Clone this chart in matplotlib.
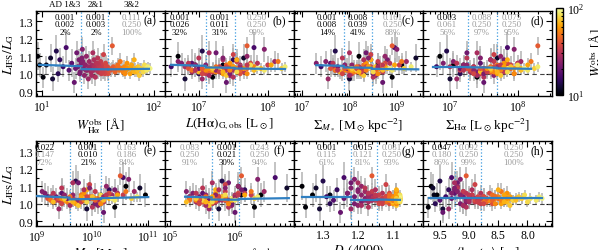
import numpy as np
import matplotlib
matplotlib.use("Agg")
import matplotlib.pyplot as plt
from matplotlib.colors import LogNorm
from matplotlib.ticker import MultipleLocator, LogLocator, NullFormatter

plt.rcParams['font.family'] = 'serif'
plt.rcParams['font.serif'] = ['Liberation Serif', 'DejaVu Serif']
plt.rcParams['mathtext.fontset'] = 'stix'

# galaxy sample (roughly)
w_ha = [9.2, 9.6, 10.3, 11.0, 12.5, 13.5, 14.5, 15.5, 16.5, 17.5, 18.5, 19.5, 12.0, 14.0,
        20.5, 21.0, 21.5, 22.0, 22.5, 23.0, 23.5, 24.0, 24.5, 25.0, 25.5, 26.0, 26.5, 27.0, 27.5, 28.0,
        28.5, 29.0, 29.5, 30.0, 30.5, 31.0, 31.5, 32.0, 32.5, 33.0, 33.5, 34.0, 34.5, 35.0, 36.0, 37.0,
        38.0, 38.5, 39.0, 39.5,
        41.0, 42.5, 43.5, 45.0, 46.0, 47.5, 49.0, 50.0, 51.5, 53.0, 54.5, 56.0, 57.5, 59.0, 61.0, 63.0,
        65.0, 66.5, 68.0, 70.0, 72.0, 74.0, 76.5, 79.0, 82.0, 85.0, 88.0, 92.0,
        20.0, 21.8, 23.2, 24.8, 26.2, 27.8, 29.2, 30.8, 32.2, 33.8, 35.5, 36.5, 37.5, 24.2, 28.2, 31.2,
        34.8, 22.8, 42.0, 44.5, 48.0, 52.0, 55.0, 58.0, 62.0, 67.0, 71.0, 75.0, 80.0, 86.0]
ratio = [1.10, 1.05, 0.98, 1.05, 0.97, 1.13, 1.08, 1.04, 1.15, 1.02, 1.06, 0.95, 1.09, 1.00,
         1.12, 1.04, 1.08, 1.01, 1.06, 1.14, 1.03, 0.99, 1.05, 1.10, 1.02, 0.97, 1.07, 1.03, 1.01, 1.05,
         1.12, 1.02, 1.04, 0.98, 1.06, 1.03, 1.09, 1.01, 1.04, 1.02, 1.07, 1.00, 1.05, 1.03, 1.01, 1.06,
         1.02, 1.04, 1.00, 1.03,
         1.02, 1.16, 1.04, 1.01, 1.03, 1.05, 1.02, 1.07, 1.03, 1.01, 1.04, 1.02, 1.06, 1.03, 1.00, 1.05,
         1.02, 1.08, 1.03, 1.01, 1.04, 0.99, 1.03, 1.02, 1.05, 1.03, 1.04, 1.03,
         1.03, 1.00, 1.07, 1.02, 1.04, 0.99, 1.08, 1.02, 1.05, 1.03, 1.11, 1.00, 1.04, 1.05, 1.02, 1.06,
         1.01, 1.09, 1.03, 1.02, 1.04, 1.02, 1.00, 1.03, 1.04, 1.01, 1.02, 1.03, 1.01, 1.02]
ratio_err = [0.08, 0.07, 0.06, 0.05, 0.07, 0.09, 0.07, 0.06, 0.09, 0.06, 0.08, 0.06, 0.08, 0.05,
             0.07, 0.05, 0.06, 0.04, 0.06, 0.07, 0.05, 0.05, 0.06, 0.06, 0.04, 0.06, 0.06, 0.05, 0.04, 0.05,
             0.07, 0.04, 0.05, 0.05, 0.05, 0.04, 0.06, 0.04, 0.05, 0.04, 0.05, 0.04, 0.05, 0.04, 0.04, 0.05,
             0.04, 0.05, 0.04, 0.04,
             0.04, 0.05, 0.04, 0.03, 0.04, 0.04, 0.03, 0.05, 0.03, 0.03, 0.04, 0.03, 0.04, 0.03, 0.03, 0.04,
             0.03, 0.04, 0.03, 0.03, 0.03, 0.03, 0.03, 0.03, 0.03, 0.03, 0.03, 0.03,
             0.06, 0.05, 0.06, 0.05, 0.05, 0.05, 0.06, 0.04, 0.05, 0.04, 0.06, 0.04, 0.04, 0.06, 0.05, 0.05,
             0.04, 0.07, 0.04, 0.04, 0.04, 0.03, 0.03, 0.03, 0.03, 0.03, 0.03, 0.03, 0.03, 0.03]
log_lha = [6.70, 6.95, 7.20, 7.35, 6.80, 7.05, 7.50, 6.60, 7.80, 7.15, 6.90, 7.40, 7.65, 7.00,
           7.25, 6.85, 7.55, 7.10, 6.75, 7.95, 7.30, 7.45, 6.95, 7.70, 7.20, 7.05, 8.10, 7.35, 6.90, 7.60,
           7.15, 7.40, 6.80, 7.50, 7.85, 7.25, 7.00, 7.65, 7.30, 6.95, 7.55, 7.10, 8.00, 7.35, 7.20, 7.75,
           7.05, 7.45, 7.60, 6.85,
           7.30, 7.70, 7.50, 7.15, 7.70, 7.40, 6.90, 8.15, 7.55, 7.25, 7.80, 7.10, 7.45, 7.65, 7.35, 8.05,
           7.20, 7.55, 7.90, 7.00, 7.60, 7.40, 8.20, 7.30, 7.75, 7.50, 8.25, 7.85,
           7.00, 7.45, 6.70, 7.25, 7.60, 7.15, 7.35, 6.95, 7.70, 7.20, 7.50, 7.05, 7.40, 7.10, 7.50, 6.85,
           7.30, 7.35, 7.05, 7.60, 7.25, 7.45, 7.70, 7.15, 7.50, 7.35, 7.80, 7.20, 7.55, 7.95]
log_smass = [8.20, 8.60, 8.90, 9.10, 8.00, 7.70, 8.45, 7.40, 8.95, 8.10, 7.60, 8.70, 9.40, 8.30,
             8.35, 7.75, 8.80, 8.05, 7.30, 9.00, 8.25, 8.55, 7.90, 8.75, 8.15, 7.55, 9.20, 8.40, 7.80, 8.65,
             8.00, 8.30, 7.65, 8.50, 8.85, 8.10, 7.85, 8.70, 8.20, 7.70, 8.60, 8.05, 9.05, 8.35, 8.15, 8.75,
             7.95, 8.45, 8.55, 7.60,
             8.20, 8.90, 8.40, 8.00, 8.65, 8.30, 7.70, 9.10, 8.50, 8.10, 8.75, 7.90, 8.35, 8.60, 8.25, 8.95,
             8.05, 8.45, 8.80, 7.80, 8.55, 8.30, 9.15, 8.15, 8.70, 8.40, 9.30, 8.85,
             7.95, 8.50, 7.50, 8.20, 8.60, 8.00, 8.30, 7.75, 8.70, 8.15, 8.45, 7.85, 8.35, 8.05, 8.55, 7.65,
             8.25, 8.40, 7.90, 8.55, 8.15, 8.35, 8.60, 8.00, 8.40, 8.20, 8.70, 8.05, 8.50, 8.90]
log_sha = [6.85, 7.05, 7.40, 7.20, 7.00, 6.95, 7.60, 6.80, 7.85, 7.30, 7.45, 7.50, 7.70, 7.15,
           7.25, 7.35, 7.80, 7.40, 6.90, 7.95, 7.55, 7.65, 7.20, 7.75, 7.45, 7.10, 8.05, 7.60, 7.30, 7.85,
           7.40, 7.70, 7.00, 7.50, 8.00, 7.50, 7.25, 7.80, 7.35, 7.15, 7.65, 7.45, 7.90, 7.55, 7.60, 7.85,
           7.30, 7.70, 7.95, 7.25,
           7.55, 8.30, 7.75, 7.60, 7.90, 7.70, 7.35, 8.20, 7.85, 7.65, 8.00, 7.50, 7.80, 7.95, 7.70, 8.15,
           7.60, 7.85, 8.05, 7.45, 7.90, 7.75, 8.25, 7.70, 8.00, 7.85, 8.30, 8.10,
           7.15, 7.50, 7.05, 7.35, 7.70, 7.40, 7.60, 7.20, 7.75, 7.50, 7.65, 7.35, 7.65, 7.25, 7.75, 7.10,
           7.55, 7.45, 7.45, 7.85, 7.60, 7.75, 7.95, 7.55, 7.80, 7.70, 8.05, 7.60, 7.85, 8.15]
log_mstar = [10.60, 10.95, 10.40, 10.15, 9.90, 9.70, 10.30, 9.20, 10.55, 9.85, 9.45, 10.20, 10.85, 10.05,
             9.75, 9.35, 10.40, 9.60, 9.15, 10.65, 9.90, 10.10, 9.50, 10.25, 9.70, 9.40, 10.75, 9.95, 9.30, 10.35,
             9.65, 9.80, 9.25, 10.00, 10.45, 9.55, 9.45, 10.20, 9.85, 9.35, 10.05, 9.60, 10.55, 9.90, 9.70, 10.30,
             9.50, 10.00, 10.15, 9.20,
             9.65, 10.50, 9.95, 9.45, 10.10, 9.80, 9.25, 10.60, 10.00, 9.55, 10.25, 9.40, 9.85, 10.05, 9.70, 10.45,
             9.50, 9.90, 10.30, 9.30, 10.00, 9.75, 10.70, 9.60, 10.15, 9.85, 10.80, 10.35,
             9.55, 10.05, 9.10, 9.75, 10.20, 9.60, 9.85, 9.40, 10.25, 9.65, 9.95, 9.45, 9.90, 9.65, 10.10, 9.30,
             9.80, 9.95, 9.40, 10.05, 9.60, 9.85, 10.15, 9.45, 9.80, 9.65, 10.20, 9.50, 9.90, 10.40]
log_lcont = [6.05, 6.40, 6.30, 6.10, 5.75, 5.80, 6.15, 5.30, 6.62, 5.85, 5.50, 6.00, 6.80, 5.95,
             5.90, 5.45, 6.10, 5.70, 5.35, 6.35, 5.80, 5.95, 5.55, 6.05, 5.75, 5.60, 6.45, 5.85, 5.40, 6.00,
             5.65, 5.80, 5.30, 5.90, 6.15, 5.60, 5.50, 5.95, 5.75, 5.45, 5.85, 5.65, 6.25, 5.80, 5.65, 6.05,
             5.50, 5.85, 5.90, 5.30,
             5.70, 6.10, 5.80, 5.50, 5.95, 5.70, 5.30, 6.25, 5.80, 5.55, 6.00, 5.40, 5.70, 5.85, 5.60, 6.15,
             5.45, 5.70, 6.00, 5.25, 5.80, 5.60, 6.30, 5.50, 5.85, 5.60, 6.35, 5.95,
             5.60, 5.95, 5.25, 5.70, 6.00, 5.55, 5.75, 5.45, 6.05, 5.65, 5.85, 5.45, 5.75, 5.70, 5.90, 5.40,
             5.70, 5.85, 5.45, 5.85, 5.55, 5.70, 5.90, 5.40, 5.65, 5.55, 5.95, 5.40, 5.65, 6.00]
dn4000 = [1.36, 1.33, 1.35, 1.28, 1.31, 1.30, 1.26, 1.29, 1.24, 1.27, 1.23, 1.25, 1.32, 1.28,
          1.22, 1.21, 1.20, 1.19, 1.23, 1.21, 1.18, 1.20, 1.17, 1.19, 1.16, 1.22, 1.18, 1.15, 1.17, 1.16,
          1.20, 1.14, 1.15, 1.17, 1.13, 1.16, 1.18, 1.14, 1.12, 1.15, 1.16, 1.13, 1.14, 1.12, 1.13, 1.11,
          1.14, 1.12, 1.11, 1.13,
          1.11, 1.16, 1.10, 1.12, 1.10, 1.11, 1.12, 1.09, 1.10, 1.09, 1.10, 1.11, 1.09, 1.08, 1.10, 1.09,
          1.08, 1.09, 1.08, 1.10, 1.08, 1.09, 1.08, 1.09, 1.08, 1.09, 1.08, 1.08,
          1.24, 1.21, 1.20, 1.18, 1.17, 1.19, 1.15, 1.14, 1.15, 1.13, 1.12, 1.14, 1.12, 1.19, 1.16, 1.17,
          1.13, 1.22, 1.11, 1.10, 1.11, 1.10, 1.09, 1.10, 1.09, 1.09, 1.08, 1.09, 1.08, 1.08]
log_age = [9.65, 9.55, 9.70, 9.60, 9.45, 9.50, 9.35, 9.40, 9.30, 9.50, 9.25, 9.45, 9.62, 9.58,
           9.20, 9.10, 9.25, 9.05, 9.30, 9.15, 9.00, 9.10, 8.95, 9.20, 9.05, 9.35, 9.10, 8.90, 9.00, 9.15,
           9.25, 8.85, 8.95, 9.05, 8.80, 9.00, 9.20, 8.90, 8.75, 8.85, 9.10, 8.80, 8.95, 8.70, 8.85, 8.65,
           8.90, 8.75, 8.60, 8.80,
           8.65, 9.05, 8.55, 8.70, 8.50, 8.60, 8.75, 8.45, 8.55, 8.40, 8.50, 8.65, 8.35, 8.30, 8.45, 8.40,
           8.25, 8.50, 8.20, 8.35, 8.15, 8.30, 8.10, 8.25, 8.05, 7.95, 7.80, 7.75,
           9.30, 9.15, 9.20, 9.05, 9.00, 9.10, 8.95, 8.85, 9.00, 8.80, 8.90, 8.75, 8.85, 9.15, 9.00, 9.05,
           8.85, 9.25, 8.70, 8.60, 8.55, 8.45, 8.55, 8.35, 8.30, 8.40, 8.20, 8.10, 8.00, 7.85]

# panel settings
labels = ["(a)", "(b)", "(c)", "(d)", "(e)", "(f)", "(g)", "(h)"]
xlabels = [r"$W^{\rm obs}_{\rm H\alpha}$ [Å]",
           r"$L({\rm H\alpha})_{\rm G,obs}$ [L$_\odot$]",
           r"$\Sigma_{M_*}$ [M$_\odot\,$kpc$^{-2}$]",
           r"$\Sigma_{\rm H\alpha}$ [L$_\odot\,$kpc$^{-2}$]",
           r"$M_*$ [M$_\odot$]",
           r"$L_{\rm cont,H\alpha}$ [L$_\odot\,$Å$^{-1}$]",
           r"$D_n(4000)$",
           r"$\langle \log t_* \rangle$ [yr]"]
xlims = [(8.9, 125), (10**6.51, 10**8.38), (10**6.83, 10**9.55), (10**6.60, 10**8.51),
         (10**8.99, 10**11.3), (10**4.92, 10**6.91), (1.383, 1.014), (9.79, 7.58)]
bin_lines = [(22.6, 39.0), (10**7.10, 10**7.52), (10**7.88, 10**8.47), (10**7.26, 10**7.69),
             (10**9.59, 10**10.155), (10**5.64, 10**6.06), (1.221, 1.146), (9.25, 8.79)]
fit_edges = [(9.5, 22.6, 39.0, 90.0),
             (10**6.6, 10**7.10, 10**7.52, 10**8.25),
             (10**7.3, 10**7.88, 10**8.47, 10**9.45),
             (10**6.75, 10**7.26, 10**7.69, 10**8.2),
             (10**9.0, 10**9.59, 10**10.155, 10**11.0),
             (10**5.23, 10**5.64, 10**6.06, 10**6.83),
             (1.36, 1.221, 1.146, 1.08),
             (9.68, 9.25, 8.79, 7.75)]
fit_vals = [((1.051, 1.043), (1.026, 1.025), (1.025, 1.028)),
            ((1.051, 1.045), (1.036, 1.034), (1.030, 1.027)),
            ((1.049, 1.045), (1.036, 1.034), (1.028, 1.025)),
            ((1.039, 1.039), (1.037, 1.035), (1.031, 1.028)),
            ((1.044, 1.035), (1.025, 1.028), (1.032, 1.038)),
            ((1.040, 1.036), (1.024, 1.023), (1.027, 1.032)),
            ((1.038, 1.038), (1.024, 1.024), (1.024, 1.022)),
            ((1.030, 1.030), (1.030, 1.030), (1.030, 1.030))]
stats = [[["0.001", "0.002", "2%"], ["0.001", "0.003", "2%"], ["0.111", "0.250", "100%"]],
         [["0.001", "0.026", "32%"], ["0.001", "0.011", "31%"], ["0.250", "0.250", "99%"]],
         [["0.001", "0.008", "14%"], ["0.008", "0.039", "41%"], ["0.161", "0.250", "88%"]],
         [["0.003", "0.061", "56%"], ["0.088", "0.250", "97%"], ["0.075", "0.250", "95%"]],
         [["0.022", "0.147", "72%"], ["0.001", "0.010", "21%"], ["0.163", "0.186", "84%"]],
         [["0.083", "0.250", "91%"], ["0.001", "0.021", "30%"], ["0.243", "0.250", "94%"]],
         [["0.001", "0.115", "61%"], ["0.015", "0.121", "81%"], ["0.081", "0.250", "93%"]],
         [["0.047", "0.180", "86%"], ["0.092", "0.250", "99%"], ["0.250", "0.250", "100%"]]]
signif = [[[1, 1, 1], [1, 1, 1], [0, 0, 0]],
          [[1, 1, 1], [1, 1, 1], [0, 0, 0]],
          [[1, 1, 1], [1, 1, 1], [0, 0, 0]],
          [[1, 0, 0], [0, 0, 0], [0, 0, 0]],
          [[1, 0, 0], [1, 1, 1], [0, 0, 0]],
          [[0, 0, 0], [1, 1, 1], [0, 0, 0]],
          [[1, 0, 0], [1, 0, 0], [0, 0, 0]],
          [[1, 0, 0], [0, 0, 0], [0, 0, 0]]]
stat_xpos = [(0.225, 0.465, 0.742), (0.116, 0.426, 0.713), (0.256, 0.496, 0.767), (0.186, 0.457, 0.690),
             (0.065, 0.405, 0.705), (0.194, 0.478, 0.736), (0.253, 0.535, 0.760), (0.147, 0.357, 0.705)]
top_labels = ["AD 1&3", "2&1", "3&2"]

xdata = [np.array(w_ha), 10**np.array(log_lha), 10**np.array(log_smass), 10**np.array(log_sha),
         10**np.array(log_mstar), 10**np.array(log_lcont), np.array(dn4000), np.array(log_age)]

W, H = 598, 251
fig = plt.figure(figsize=(W / 100, H / 100), dpi=100)
norm = LogNorm(10, 100)

axes = []
for i in range(8):
    row, col = divmod(i, 4)
    x0 = 36 + col * 129
    y0 = 12 if row == 0 else 142
    ax = fig.add_axes([x0 / W, 1 - (y0 + 85) / H, 129 / W, 85 / H])
    axes.append(ax)
    x = xdata[i]
    if i < 6:
        ax.set_xscale('log')
        ax.xaxis.set_minor_locator(LogLocator(subs=np.arange(2, 10)))
        ax.xaxis.set_minor_formatter(NullFormatter())
    elif i == 6:
        ax.xaxis.set_major_locator(MultipleLocator(0.1))
        ax.xaxis.set_minor_locator(MultipleLocator(0.02))
    else:
        ax.xaxis.set_major_locator(MultipleLocator(0.5))
        ax.xaxis.set_minor_locator(MultipleLocator(0.1))

    ax.errorbar(x, ratio, yerr=ratio_err, fmt='none', ecolor='#b3b3b3', elinewidth=1.3,
                alpha=0.85, zorder=1)
    sc = ax.scatter(x, ratio, c=w_ha, cmap='inferno', norm=norm, s=13, edgecolors='none', zorder=3)
    ax.axhline(1.0, color='#444444', lw=0.8, ls=(0, (4, 3)), zorder=2)
    for v in bin_lines[i]:
        ax.axvline(v, color='#3d9be0', lw=0.9, ls=':', zorder=2)
    e = fit_edges[i]
    for k in range(3):
        ax.plot([e[k], e[k + 1]], fit_vals[i][k], color='#2f7fc1', lw=1.6, zorder=4)

    ax.set_xlim(*xlims[i])
    ax.set_ylim(0.872, 1.36)
    ax.yaxis.set_major_locator(MultipleLocator(0.1))
    ax.yaxis.set_minor_locator(MultipleLocator(0.05))
    ax.tick_params(which='both', direction='in', top=True, right=True, labelsize=8.5, width=0.8, pad=2)
    ax.tick_params(which='major', length=4)
    ax.tick_params(which='minor', length=2)
    for s in ax.spines.values():
        s.set_linewidth(1.0)
    if col == 0:
        ax.set_ylabel(r"$L_{\rm IFS}/L_{\rm G}$", fontsize=9.5, labelpad=2)
    else:
        ax.tick_params(labelleft=False)
    ax.set_xlabel(xlabels[i], fontsize=9.5, labelpad=1.5)

    for c in range(3):
        for r in range(3):
            ax.text(stat_xpos[i][c], 0.93 - 0.087 * r, stats[i][c][r], transform=ax.transAxes,
                    ha='center', va='center', fontsize=6.3,
                    color='black' if signif[i][c][r] else '#9a9a9a')
    ax.text(0.886, 0.886, labels[i], transform=ax.transAxes, ha='center', va='center', fontsize=8.5)

for c in range(3):
    axes[0].text(stat_xpos[0][c], 1.082, top_labels[c], transform=axes[0].transAxes,
                 ha='center', va='center', fontsize=6.5)

cax = fig.add_axes([556 / W, 1 - 96 / H, 6.6 / W, 87 / H])
cb = fig.colorbar(sc, cax=cax)
cb.set_label(r"$W^{\rm obs}_{\rm H\alpha}$ [Å]", fontsize=9.5, labelpad=2)
cb.ax.yaxis.set_minor_formatter(NullFormatter())
cb.ax.tick_params(which='both', labelsize=8.5, direction='in', width=0.8)
cb.ax.tick_params(which='major', length=3)
cb.ax.tick_params(which='minor', length=1.5)
cb.outline.set_linewidth(1.0)

fig.savefig("out.png", dpi=100)
